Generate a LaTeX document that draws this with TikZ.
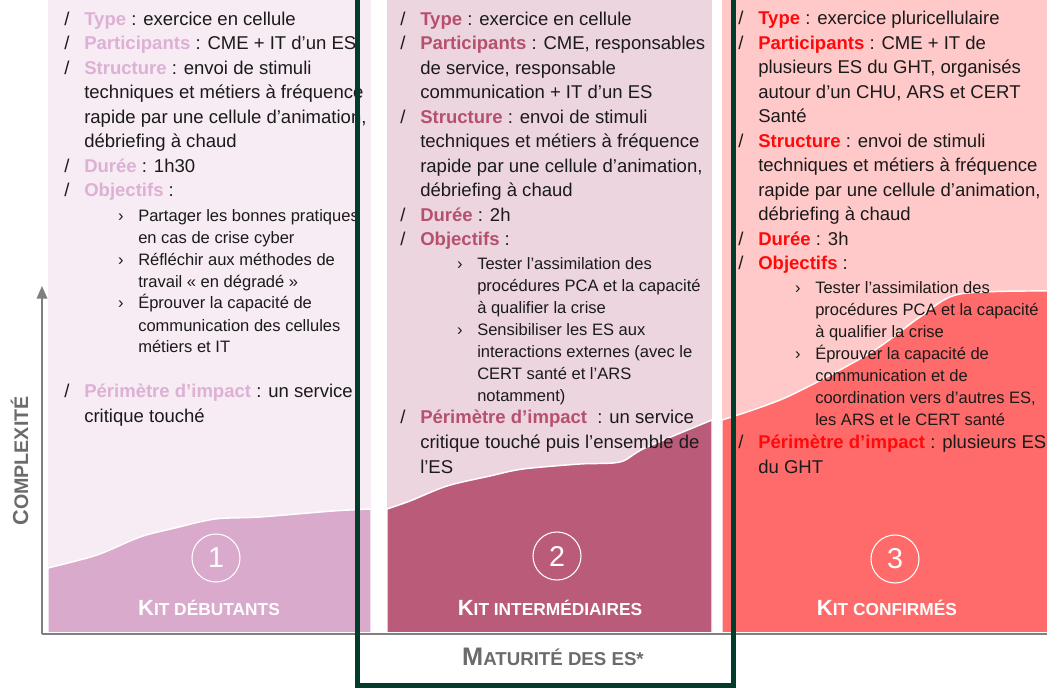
\documentclass[tikz,border=0pt]{standalone}
\usepackage{fontspec}
\setmainfont{Liberation Sans}
\usetikzlibrary{arrows.meta}

\definecolor{c1light}{HTML}{F7EBF4}
\definecolor{c1dark}{HTML}{D9AACB}
\definecolor{c1head}{HTML}{DDB1D4}
\definecolor{c2light}{HTML}{EDD5DF}
\definecolor{c2dark}{HTML}{BA5B79}
\definecolor{c2head}{HTML}{B5506F}
\definecolor{c3light}{HTML}{FFC9C9}
\definecolor{c3dark}{HTML}{FF6B6B}
\definecolor{c3head}{HTML}{FF0A0A}
\definecolor{framegreen}{HTML}{003D2C}
\definecolor{axisgray}{HTML}{7F7F7F}
\definecolor{labelgray}{HTML}{6B6B6B}
\definecolor{bodytext}{HTML}{1A1A1A}

\newcommand{\mainsize}{\fontsize{13.9pt}{18.4pt}\selectfont}
\newcommand{\subsize}{\fontsize{12.4pt}{16.5pt}\selectfont}
\newcommand{\hd}[2]{\textcolor{#1}{\textbf{#2}}}
\newcommand{\slbul}{\llap{/\hspace{11pt}}}
\newcommand{\subbul}{\llap{›\hspace{11pt}}}
\newcommand{\fakesc}[4]{{\fontsize{#1}{#1}\selectfont #3}{\fontsize{#2}{#2}\selectfont #4}}

% text nodes are placed by the baseline of their last line
\tikzset{
    txt/.style={anchor=base west, inner sep=0pt, align=left, text=bodytext, font=\mainsize},
    subtxt/.style={txt, font=\subsize},
    kitarea/.style={draw=white, line width=1.1pt},
    numcircle/.style={circle, draw=white, line width=0.8pt, minimum size=36pt, inner sep=0pt, text=white, font=\fontsize{21.5pt}{22pt}\selectfont},
    kitlabel/.style={anchor=base, inner sep=0pt, text=white, font=\bfseries},
    axislabel/.style={anchor=base, inner sep=0pt, text=labelgray, font=\bfseries},
    axisline/.style={draw=axisgray, line width=1.2pt},
    greenframe/.style={draw=framegreen, line width=3.75pt, line join=miter}
}

\begin{document}
\begin{tikzpicture}[x=0.75pt, y=-0.75pt]
    \useasboundingbox (0,0) rectangle (1047,688);

    % Column backgrounds
    \fill[c1light] (48,0) rectangle (371,631);
    \fill[c2light] (387,0) rectangle (712,631);
    \fill[c3light] (722,0) rectangle (1052,631);

    % Kit areas
    \filldraw[kitarea, fill=c1dark] (48,634) -- plot[smooth] coordinates {(48,568) (97,555) (140,537) (175,528) (215,519) (260,517) (333,511) (371,509)} -- (371,634) -- cycle;
    \filldraw[kitarea, fill=c2dark] (387,634) -- plot[smooth] coordinates {(387,509) (410,501) (447,486) (490,476) (523,469) (580,464) (620,462) (645,448) (712,420)} -- (712,634) -- cycle;
    \filldraw[kitarea, fill=c3dark] (722,634) -- plot[smooth] coordinates {(722,420) (787,397) (870,353) (920,317) (960,294) (1052,291)} -- (1052,634) -- cycle;

    % Axes
    \coordinate (origin) at (42,634);
    \coordinate (ytop) at (42,286);
    \coordinate (xend) at (1047,634);
    \fill[white] (0,632) rectangle (1047,688);
    \draw[axisline] (origin) -- (xend);
    \draw[axisline, -{Triangle[width=8pt,length=9.5pt]}] (origin) -- (ytop);

    % Kit 1
    \node[txt] (c1main) at (84,197) {\slbul\hd{c1head}{Type} : exercice en cellule\\
        \slbul\hd{c1head}{Participants} : CME + IT d’un ES\\
        \slbul\hd{c1head}{Structure} : envoi de stimuli\\
        techniques et métiers à fréquence\\
        rapide par une cellule d’animation,\\
        débriefing à chaud\\
        \slbul\hd{c1head}{Durée} : 1h30\\
        \slbul\hd{c1head}{Objectifs} :};
    \node[subtxt] (c1obj) at (138,353) {\subbul Partager les bonnes pratiques\\
        en cas de crise cyber\\
        \subbul Réfléchir aux méthodes de\\
        travail «~en dégradé~»\\
        \subbul Éprouver la capacité de\\
        communication des cellules\\
        métiers et IT};
    \node[txt] (c1impact) at (84,422) {\slbul\hd{c1head}{Périmètre d’impact} : un service\\
        critique touché};

    % Kit 2
    \node[txt] (c2main) at (420,246) {\slbul\hd{c2head}{Type} : exercice en cellule\\
        \slbul\hd{c2head}{Participants} : CME, responsables\\
        de service, responsable\\
        communication + IT d’un ES\\
        \slbul\hd{c2head}{Structure} : envoi de stimuli\\
        techniques et métiers à fréquence\\
        rapide par une cellule d’animation,\\
        débriefing à chaud\\
        \slbul\hd{c2head}{Durée} : 2h\\
        \slbul\hd{c2head}{Objectifs} :};
    \node[subtxt] (c2obj) at (477,401) {\subbul Tester l’assimilation des\\
        procédures PCA et la capacité\\
        à qualifier la crise\\
        \subbul Sensibiliser les ES aux\\
        interactions externes (avec le\\
        CERT santé et l’ARS\\
        notamment)};
    \node[txt] (c2impact) at (420,473) {\slbul\hd{c2head}{Périmètre d’impact}\ \ : un service\\
        critique touché puis l’ensemble de\\
        l’ES};

    % Kit 3
    \node[txt] (c3main) at (758,270) {\slbul\hd{c3head}{Type} : exercice pluricellulaire\\
        \slbul\hd{c3head}{Participants} : CME + IT de\\
        plusieurs ES du GHT, organisés\\
        autour d’un CHU, ARS et CERT\\
        Santé\\
        \slbul\hd{c3head}{Structure} : envoi de stimuli\\
        techniques et métiers à fréquence\\
        rapide par une cellule d’animation,\\
        débriefing à chaud\\
        \slbul\hd{c3head}{Durée} : 3h\\
        \slbul\hd{c3head}{Objectifs} :};
    \node[subtxt] (c3obj) at (815,425) {\subbul Tester l’assimilation des\\
        procédures PCA et la capacité\\
        à qualifier la crise\\
        \subbul Éprouver la capacité de\\
        communication et de\\
        coordination vers d’autres ES,\\
        les ARS et le CERT santé};
    \node[txt] (c3impact) at (758,473) {\slbul\hd{c3head}{Périmètre d’impact} : plusieurs ES\\
        du GHT};

    % Kit numbers and names
    \node[numcircle] (num1) at (216,558) {1};
    \node[numcircle] (num2) at (557,556) {2};
    \node[numcircle] (num3) at (895,559) {3};
    \node[kitlabel] (kit1) at (209,615) {\fakesc{16.5pt}{13pt}{K}{IT DÉBUTANTS}};
    \node[kitlabel] (kit2) at (550,615) {\fakesc{16.5pt}{13pt}{K}{IT INTERMÉDIAIRES}};
    \node[kitlabel] (kit3) at (887,615) {\fakesc{16.5pt}{13pt}{K}{IT CONFIRMÉS}};

    % Axis labels
    \node[axislabel, rotate=90] (ylabel) at (28,461) {\fakesc{16.25pt}{14.75pt}{C}{OMPLEXITÉ}};
    \node[axislabel] (xlabel) at (553,665) {\fakesc{19pt}{14pt}{M}{ATURITÉ DES ES*}};

    % Frame round kit 2
    \draw[greenframe] (357.5,0) -- (357.5,685.5) -- (733.5,685.5) -- (733.5,0);
\end{tikzpicture}
\end{document}
